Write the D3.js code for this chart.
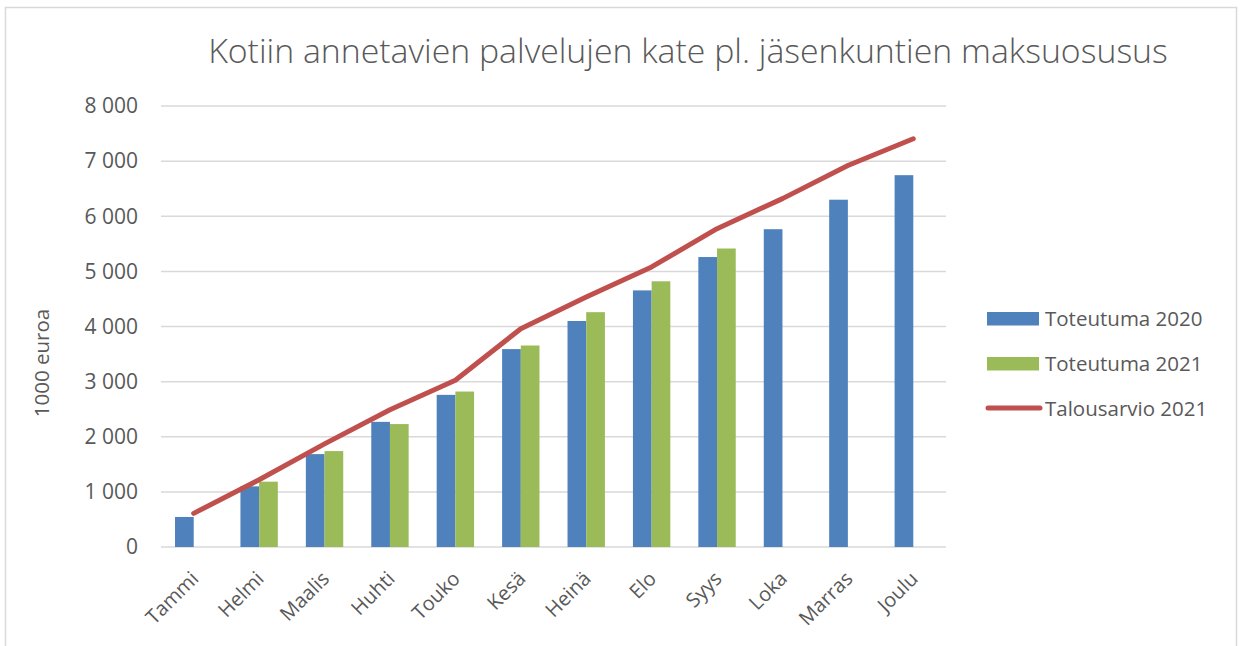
<!DOCTYPE html>
<html>
<head>
<meta charset="utf-8">
<script src="https://cdn.jsdelivr.net/npm/d3@7"></script>
<style>
  body { margin: 0; background: #fff; }
  text { font-family: "Open Sans", "Liberation Sans", sans-serif; fill: #595959; }
</style>
</head>
<body>
<script>
var months = ["Tammi", "Helmi", "Maalis", "Huhti", "Touko", "Kesä", "Heinä", "Elo", "Syys", "Loka", "Marras", "Joulu"];
var toteutuma2020 = [545, 1100, 1685, 2270, 2760, 3590, 4100, 4655, 5260, 5765, 6300, 6745];
var toteutuma2021 = [null, 1185, 1740, 2230, 2820, 3655, 4260, 4820, 5415, null, null, null];
var talousarvio2021 = [610, 1220, 1870, 2490, 3025, 3960, 4535, 5080, 5775, 6320, 6920, 7405];
var yTicks = [0, 1000, 2000, 3000, 4000, 5000, 6000, 7000, 8000];
var seriesNames = ["Toteutuma 2020", "Toteutuma 2021", "Talousarvio 2021"];

var w = 1242, h = 646;
var plotLeft = 161, plotRight = 946, plotTop = 106, plotBottom = 547;

var svg = d3.select("body").append("svg")
  .attr("width", w)
  .attr("height", h);

// outer frame
svg.append("rect")
  .attr("x", 5.5).attr("y", 7.5)
  .attr("width", 1231).attr("height", 660)
  .attr("fill", "none")
  .attr("stroke", "#d9d9d9")
  .attr("stroke-width", 1.5);

var x = d3.scaleBand().domain(months).range([plotLeft, plotRight]);
var y = d3.scaleLinear().domain([0, 8000]).range([plotBottom, plotTop]);

var groupW = x.bandwidth() * 2 / 3.5;
var x1 = d3.scaleBand().domain([0, 1]).range([0, groupW]);

// gridlines
svg.selectAll("line.grid")
  .data(yTicks)
  .enter()
  .append("line")
  .attr("x1", plotLeft).attr("x2", plotRight)
  .attr("y1", function(d) { return y(d); })
  .attr("y2", function(d) { return y(d); })
  .attr("stroke", "#d9d9d9")
  .attr("stroke-width", 1.5);

// y labels
svg.selectAll("text.ytick")
  .data(yTicks)
  .enter()
  .append("text")
  .attr("x", 138)
  .attr("y", function(d) { return y(d); })
  .attr("dy", "0.35em")
  .attr("text-anchor", "end")
  .attr("font-size", "21px")
  .text(function(d) { return d3.format(",")(d).replace(/,/g, " "); });

// bars
var series = [toteutuma2020, toteutuma2021];
var colors = ["#4f81bd", "#9bbb59"];
series.forEach(function(vals, s) {
  var pts = [];
  for (var i = 0; i < vals.length; i++) {
    if (vals[i] != null) pts.push({ m: months[i], v: vals[i] });
  }
  svg.selectAll("rect.s" + s)
    .data(pts)
    .enter()
    .append("rect")
    .attr("x", function(d) {
      return x(d.m) + (x.bandwidth() - groupW) / 2 + x1(s);
    })
    .attr("y", function(d) { return y(d.v); })
    .attr("width", x1.bandwidth())
    .attr("height", function(d) { return plotBottom - y(d.v); })
    .attr("fill", colors[s]);
});

// budget line
var line = d3.line()
  .x(function(d, i) { return x(months[i]) + x.bandwidth() / 2; })
  .y(function(d) { return y(d); });
svg.append("path")
  .datum(talousarvio2021)
  .attr("d", line)
  .attr("fill", "none")
  .attr("stroke", "#c0504d")
  .attr("stroke-width", 5)
  .attr("stroke-linecap", "round")
  .attr("stroke-linejoin", "round");

// x labels
svg.selectAll("text.xtick")
  .data(months)
  .enter()
  .append("text")
  .attr("font-size", "20px")
  .attr("text-anchor", "end")
  .attr("transform", function(d) {
    return "translate(" + (x(d) + x.bandwidth() / 2 + 6) + "," + 580 + ") rotate(-45)";
  })
  .text(function(d) { return d; });

// title
svg.append("text")
  .attr("x", 688)
  .attr("y", 63)
  .attr("text-anchor", "middle")
  .attr("font-size", "33.8px")
  .attr("font-weight", 300)
  .text("Kotiin annetavien palvelujen kate pl. jäsenkuntien maksuosusus");

// y axis title
svg.append("text")
  .attr("transform", "translate(49,363) rotate(-90)")
  .attr("text-anchor", "middle")
  .attr("font-size", "20.5px")
  .text("1000 euroa");

// legend
var leg = svg.append("g");
[0, 1].forEach(function(s) {
  leg.append("rect")
    .attr("x", 987).attr("y", 312 + s * 45)
    .attr("width", 52).attr("height", 13.5)
    .attr("fill", colors[s]);
});
leg.append("line")
  .attr("x1", 988).attr("x2", 1040)
  .attr("y1", 408).attr("y2", 408)
  .attr("stroke", "#c0504d")
  .attr("stroke-width", 5)
  .attr("stroke-linecap", "round");
seriesNames.forEach(function(n, i) {
  leg.append("text")
    .attr("x", 1045)
    .attr("y", 319 + i * 45)
    .attr("dy", "0.35em")
    .attr("font-size", "20.5px")
    .text(n);
});
</script>
</body>
</html>
